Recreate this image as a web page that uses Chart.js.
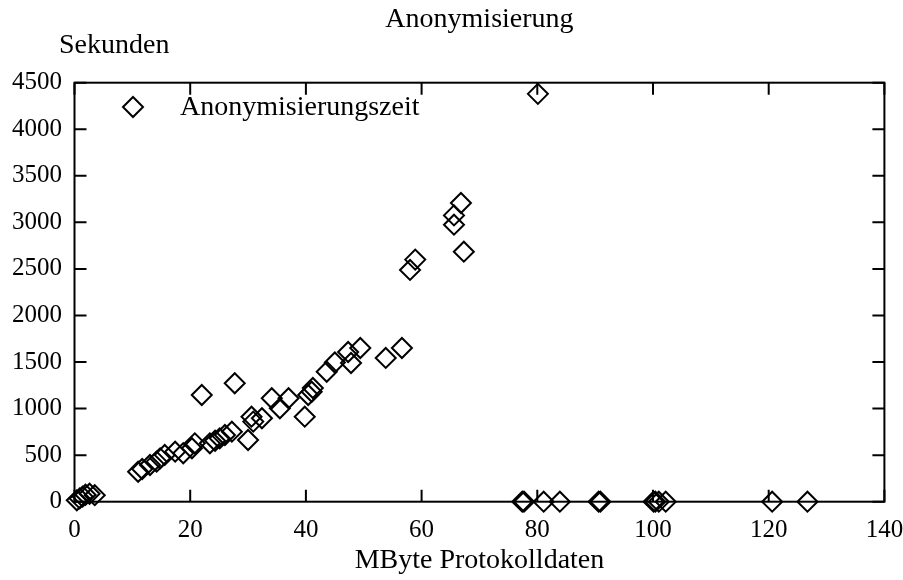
<!DOCTYPE html>
<html>
<head>
<meta charset="utf-8">
<script src="https://cdn.jsdelivr.net/npm/chart.js@4"></script>
<style>
html,body{margin:0;padding:0;background:#fff;}
#wrap{width:903px;height:580px;position:relative;}
</style>
</head>
<body>
<div id="wrap"><canvas id="c" width="903" height="580"></canvas></div>
<script>
// ---- data ----
const chartTitle = 'Anonymisierung';
const xAxisTitle = 'MByte Protokolldaten';
const yAxisTitle = 'Sekunden';
const seriesName = 'Anonymisierungszeit';
const xTicks = [0, 20, 40, 60, 80, 100, 120, 140];
const yTicks = [0, 500, 1000, 1500, 2000, 2500, 3000, 3500, 4000, 4500];
const megabytes = [
  0.4, 0.9, 1.4, 1.9, 2.6, 3.5,
  11.0, 11.7, 13.05, 14.2, 14.8, 15.6, 17.4, 18.8, 20.3, 20.8, 22.0, 23.4, 24.3, 25.1, 26.0, 27.2, 27.7,
  30.0, 30.6, 30.9, 32.4, 34.1, 35.5, 37.0, 39.8, 40.4, 41.0, 41.2, 43.6, 45.0, 47.3, 47.8, 49.4,
  53.8, 56.6, 58.0, 58.9, 65.6, 65.6, 66.8, 67.3, 80.1,
  77.4, 77.7, 81.1, 83.9, 90.6, 90.9, 100.1, 100.4, 101.0, 102.2, 120.6, 126.7
];
const seconds = [
  15, 35, 55, 75, 85, 70,
  322, 351, 394, 430, 466, 502, 537, 520, 574, 627, 1146, 627, 655, 681, 716, 752, 1272,
  663, 913, 860, 896, 1111, 1003, 1111, 913, 1146, 1181, 1221, 1396, 1495, 1608, 1490, 1651,
  1544, 1651, 2489, 2600, 2975, 3075, 3208, 2685, 4380,
  0, 0, 0, 0, 0, 0, 0, 0, 0, 0, 0, 0
];

const points = megabytes.map((x, i) => ({x: x, y: seconds[i]}));
const FONT = 'Liberation Serif';

const framePlugin = {
  id: 'frame',
  beforeDatasetsDraw(chart) {
    const ctx = chart.ctx;
    const a = chart.chartArea;
    const xs = chart.scales.x, ys = chart.scales.y;
    const tl = 12;
    ctx.save();
    ctx.strokeStyle = '#000';
    ctx.lineWidth = 2;
    ctx.strokeRect(a.left, a.top, a.right - a.left, a.bottom - a.top);
    ctx.beginPath();
    xTicks.forEach(v => {
      const px = xs.getPixelForValue(v);
      ctx.moveTo(px, a.bottom); ctx.lineTo(px, a.bottom - tl);
      ctx.moveTo(px, a.top); ctx.lineTo(px, a.top + tl);
    });
    yTicks.forEach(v => {
      const py = ys.getPixelForValue(v);
      ctx.moveTo(a.left, py); ctx.lineTo(a.left + tl, py);
      ctx.moveTo(a.right, py); ctx.lineTo(a.right - tl, py);
    });
    ctx.stroke();
    // y axis caption
    ctx.fillStyle = '#000';
    ctx.font = '28px "' + FONT + '"';
    ctx.textAlign = 'left';
    ctx.textBaseline = 'alphabetic';
    ctx.fillText(yAxisTitle, 59, 53);
    // legend
    const lx = 133, ly = 107, r = 10;
    ctx.beginPath();
    ctx.moveTo(lx - r, ly); ctx.lineTo(lx, ly - r); ctx.lineTo(lx + r, ly); ctx.lineTo(lx, ly + r);
    ctx.closePath();
    ctx.lineWidth = 2;
    ctx.stroke();
    ctx.fillText(seriesName, 180, 115);
    ctx.restore();
  }
};

new Chart(document.getElementById('c'), {
  type: 'scatter',
  data: {
    datasets: [{
      label: seriesName,
      data: points,
      pointStyle: 'rectRot',
      pointRadius: 10,
      pointHoverRadius: 10,
      borderColor: '#000',
      backgroundColor: 'rgba(0,0,0,0)',
      borderWidth: 2,
      clip: false
    }]
  },
  options: {
    responsive: false,
    animation: false,
    events: [],
    layout: {padding: {left: 0, right: 18.6, top: 0, bottom: 0}},
    plugins: {
      legend: {display: false},
      tooltip: {enabled: false},
      title: {
        display: true,
        text: chartTitle,
        fullSize: false,
        color: '#000',
        font: {family: FONT, size: 28, weight: 'normal'},
        padding: {top: 3, bottom: 46.1}
      }
    },
    scales: {
      x: {
        type: 'linear',
        min: 0, max: 140,
        afterBuildTicks: s => { s.ticks = xTicks.map(v => ({value: v})); },
        afterFit: s => { s.height = 78.3; s.paddingLeft = 0; s.paddingRight = 0; },
        grid: {display: false, drawTicks: false},
        border: {display: false},
        ticks: {color: '#000', font: {family: FONT, size: 25}, padding: 14, maxRotation: 0,
                callback: v => String(v)},
        title: {display: true, text: xAxisTitle, color: '#000', font: {family: FONT, size: 28}, padding: {top: 0, bottom: 3}}
      },
      y: {
        type: 'linear',
        min: 0, max: 4500,
        afterBuildTicks: s => { s.ticks = yTicks.map(v => ({value: v})); },
        afterFit: s => { s.width = 74.5; s.paddingTop = 0; s.paddingBottom = 0; },
        grid: {display: false, drawTicks: false},
        border: {display: false},
        ticks: {color: '#000', font: {family: FONT, size: 25}, padding: 12.5,
                callback: v => String(v)}
      }
    }
  },
  plugins: [framePlugin]
});
</script>
</body>
</html>
